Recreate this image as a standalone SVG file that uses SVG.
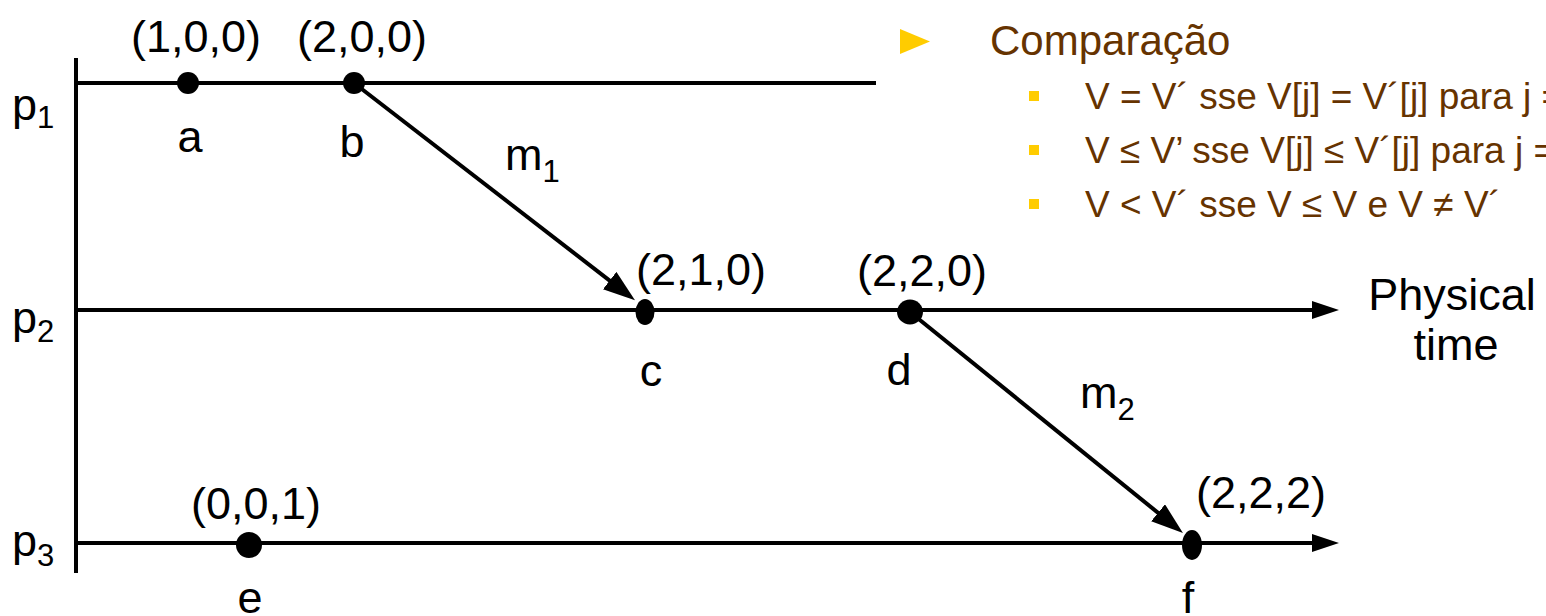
<svg xmlns="http://www.w3.org/2000/svg" width="1546" height="616" viewBox="0 0 1546 616">
<style>
.ln{stroke:#000;stroke-width:4;fill:none}
.t{font-family:"Liberation Sans",Arial,sans-serif;font-size:45px;fill:#000}
.ts{font-family:"Liberation Sans",Arial,sans-serif;font-size:31px;fill:#000}
.c{text-anchor:middle}
.br{font-family:"Liberation Sans",Arial,sans-serif;fill:#663300}
.dot{fill:#000}
.bul{fill:#FFCC00}
</style>
<defs>
<marker id="ax" markerUnits="userSpaceOnUse" markerWidth="30" markerHeight="20" refX="16" refY="9" orient="auto">
<path d="M0,0 L27,9 L0,18 z" fill="#000"/>
</marker>
<marker id="msg" markerUnits="userSpaceOnUse" markerWidth="34" markerHeight="24" refX="20" refY="11" orient="auto">
<path d="M0,0 L32,11 L0,22 z" fill="#000"/>
</marker>
</defs>

<g id="axes">
<line class="ln" x1="76" y1="58" x2="76" y2="573"/>
</g>

<g id="connectors">
<line id="p1-line" class="ln" x1="76" y1="83" x2="876" y2="83"/>
<line id="p2-line" class="ln" x1="76" y1="310" x2="1328" y2="310" marker-end="url(#ax)"/>
<line id="p3-line" class="ln" x1="76" y1="543" x2="1328" y2="543" marker-end="url(#ax)"/>
<line id="m1" class="ln" x1="354" y1="83" x2="625.5" y2="292.8" marker-end="url(#msg)"/>
<line id="m2" class="ln" x1="910" y1="312" x2="1173.6" y2="525.4" marker-end="url(#msg)"/>
</g>

<g id="process-labels">
<text class="t" x="12" y="120">p<tspan class="ts" dy="8">1</tspan></text>
<text class="t" x="12" y="333">p<tspan class="ts" dy="9">2</tspan></text>
<text class="t" x="12" y="556">p<tspan class="ts" dy="10">3</tspan></text>
</g>

<g id="node-a">
<circle class="dot" cx="188" cy="83" r="11"/>
<text class="t c" x="196" y="52">(1,0,0)</text>
<text class="t c" x="190" y="152">a</text>
</g>
<g id="node-b">
<circle class="dot" cx="354" cy="83" r="11"/>
<text class="t c" x="362" y="52">(2,0,0)</text>
<text class="t c" x="352" y="157">b</text>
</g>
<g id="node-c">
<ellipse class="dot" cx="645" cy="312" rx="9.5" ry="13"/>
<text class="t c" x="701" y="285">(2,1,0)</text>
<text class="t c" x="651" y="386">c</text>
</g>
<g id="node-d">
<ellipse class="dot" cx="910" cy="312" rx="13" ry="12.5"/>
<text class="t c" x="922" y="286">(2,2,0)</text>
<text class="t c" x="899" y="385">d</text>
</g>
<g id="node-e">
<circle class="dot" cx="249" cy="545" r="13"/>
<text class="t c" x="256" y="519">(0,0,1)</text>
<text class="t c" x="250" y="613">e</text>
</g>
<g id="node-f">
<ellipse class="dot" cx="1192" cy="545" rx="10" ry="15"/>
<text class="t c" x="1261" y="508">(2,2,2)</text>
<text class="t c" x="1188" y="613">f</text>
</g>

<g id="message-labels">
<text class="t" x="505" y="170">m<tspan class="ts" dy="12">1</tspan></text>
<text class="t" x="1080" y="408">m<tspan class="ts" dy="12">2</tspan></text>
</g>

<g id="time-label">
<text class="t c" x="1452" y="310">Physical</text>
<text class="t c" x="1456" y="360">time</text>
</g>

<g id="comparison">
<polygon class="bul" points="900,29 930,41.5 900,54"/>
<text class="br" font-size="42" x="990" y="55">Comparação</text>
<rect class="bul" x="1029" y="91" width="10" height="10"/>
<text class="br" font-size="37" x="1085" y="109">V = V´ sse V[j] = V´[j] para j =</text>
<rect class="bul" x="1029" y="145" width="10" height="10"/>
<text class="br" font-size="37" x="1085" y="163">V ≤ V’ sse V[j] ≤ V´[j] para j =</text>
<rect class="bul" x="1029" y="199" width="10" height="10"/>
<text class="br" font-size="37" x="1085" y="217">V &lt; V´ sse V ≤ V e V ≠ V´</text>
</g>
</svg>
